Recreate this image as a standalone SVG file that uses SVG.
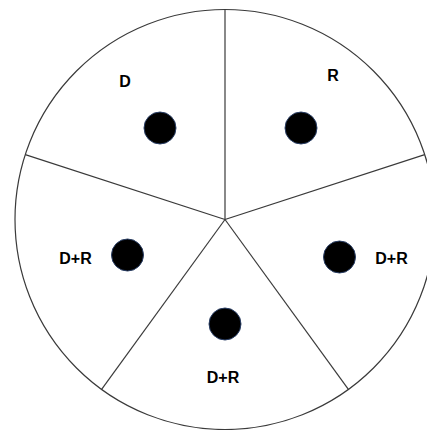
<svg xmlns="http://www.w3.org/2000/svg" width="427" height="430" viewBox="0 0 427 430">
<style>
.ln{stroke:#3a3a3a;stroke-width:1.2;fill:none}
.dot{fill:#000;stroke:#2a3f66;stroke-width:1}
.lb{font-family:"Liberation Sans",Arial,sans-serif;font-weight:bold;font-size:16px;fill:#000;text-anchor:middle}
</style>
<rect width="427" height="430" fill="#fff"/>
<g id="connectors">
<circle class="ln" cx="225" cy="219.5" r="210"/>
<line class="ln" x1="225" y1="219.5" x2="225" y2="9.5"/>
<line class="ln" x1="225" y1="219.5" x2="25.3" y2="154.6"/>
<line class="ln" x1="225" y1="219.5" x2="424.7" y2="154.6"/>
<line class="ln" x1="225" y1="219.5" x2="101.6" y2="389.4"/>
<line class="ln" x1="225" y1="219.5" x2="348.4" y2="389.4"/>
</g>
<g id="sector-D">
<circle class="dot" cx="160" cy="128" r="16"/>
<text class="lb" x="125" y="87">D</text>
</g>
<g id="sector-R">
<circle class="dot" cx="301" cy="128" r="16"/>
<text class="lb" x="333" y="81">R</text>
</g>
<g id="sector-left">
<circle class="dot" cx="127.5" cy="255" r="16"/>
<text class="lb" x="75.5" y="264">D+R</text>
</g>
<g id="sector-right">
<circle class="dot" cx="339.5" cy="257" r="16"/>
<text class="lb" x="391.5" y="264">D+R</text>
</g>
<g id="sector-bottom">
<circle class="dot" cx="225" cy="324" r="16"/>
<text class="lb" x="223" y="382.5">D+R</text>
</g>
</svg>
